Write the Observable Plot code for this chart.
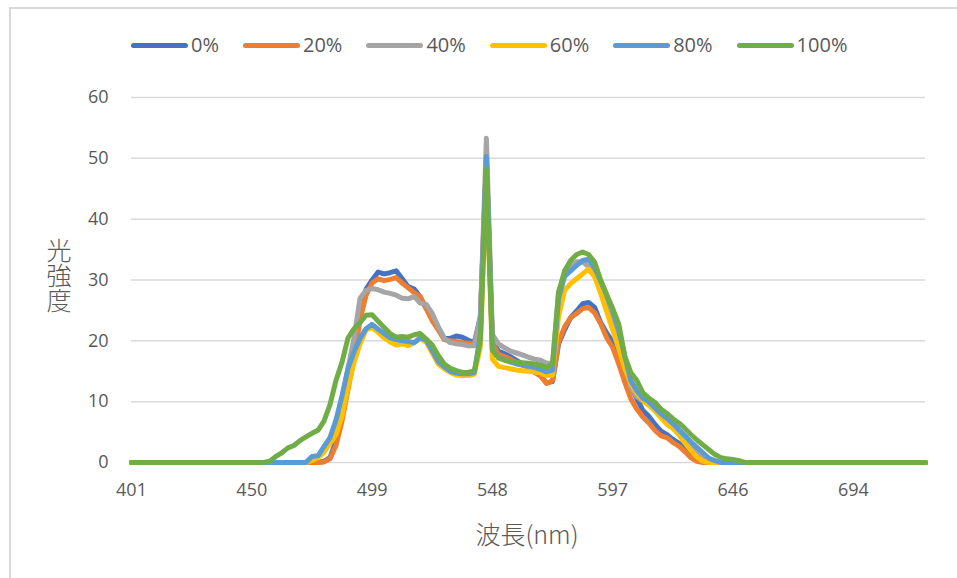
<!DOCTYPE html>
<html>
<head>
<meta charset="utf-8">
<script src="https://cdn.jsdelivr.net/npm/d3@7"></script>
<script src="https://cdn.jsdelivr.net/npm/@observablehq/plot@0.6"></script>
<style>
  html, body { margin: 0; padding: 0; background: #fff; }
  #wrap { position: relative; width: 957px; height: 578px; overflow: hidden; font-family: "Open Sans", "Noto Sans", sans-serif; color: #595959; }
  #border { position: absolute; left: 9px; top: 7px; width: 1000px; height: 1000px; border: 2px solid #d9d9d9; box-sizing: border-box; }
  #chart { position: absolute; left: 0; top: 0; }
  #legend { position: absolute; left: 131px; top: 31px; display: flex; gap: 24px; font-size: 20px; line-height: 28px; }
  .item { display: flex; align-items: center; }
  .sw { width: 57px; height: 5px; border-radius: 3px; margin-right: 3px; }
  #ytitle { position: absolute; left: 46px; top: 238px; writing-mode: vertical-rl; font-family: "Noto Sans CJK JP", sans-serif; font-size: 25px; line-height: 26px; color: #595959; font-weight: 300; }
  #xtitle { position: absolute; left: 0; width: 957px; text-align: center; top: 515px; padding-left: 97px; box-sizing: border-box; font-family: "Noto Sans CJK JP", sans-serif; font-size: 25px; color: #595959; font-weight: 300; }
</style>
</head>
<body>
<div id="wrap">
  <div id="border"></div>
  <div id="chart"></div>
  <div id="legend"></div>
  <div id="ytitle">光強度</div>
  <div id="xtitle">波長(nm)</div>
</div>
<script>
// Category axis: 133 wavelength samples (index 0..132), labels every 20 samples
const tickIndex = [0, 20, 40, 60, 80, 100, 120];
const tickLabels = ["401", "450", "499", "548", "597", "646", "694"];
const nPoints = 133;
const seriesNames = ["0%", "20%", "40%", "60%", "80%", "100%"];
const seriesColors = ["#4472C4", "#ED7D31", "#A5A5A5", "#FFC000", "#5B9BD5", "#70AD47"];
const yTicks = [0, 10, 20, 30, 40, 50, 60];

// Non-zero stretch of each series: start index and values (all other samples are 0)
const s0Start = 32;
const s0 = [0.2, 0.8, 3.5, 8, 13, 18.5, 25, 28.5, 30, 31.3, 31.0, 31.2, 31.5, 30.2, 28.9, 28.5, 27.2, 25.3, 23.6, 22.2,
  20.4, 20.4, 20.8, 20.6, 20.1, 19.7, 24, 50, 20, 18.3, 17.9, 17.4, 16.8, 16.2, 15.7, 15.0, 14.3, 13.1, 13.3, 19.5,
  21.8, 23.8, 24.9, 26.1, 26.3, 25.5, 23.0, 21.3, 19.8, 17.3, 14.8, 12.5, 10.5, 8.6, 7.6, 6.3, 5.2, 4.6, 3.8, 3.2,
  2.3, 1.3, 0.7, 0.2];
const s20Start = 32;
const s20 = [0.1, 0.6, 2.8, 6.8, 12, 17, 23.5, 27.5, 29.5, 30.2, 29.9, 30.1, 30.4, 29.5, 28.7, 27.9, 27.3, 25.3, 23.3, 21.8,
  20.2, 20.0, 19.9, 19.7, 19.6, 19.5, 23.5, 49.5, 19.5, 17.8, 17.4, 17.0, 16.4, 16.0, 15.6, 14.8, 14.2, 13.0, 13.5, 19.8,
  22.3, 23.8, 24.5, 25.3, 25.5, 24.6, 22.8, 20.5, 18.9, 16.2, 13.2, 10.5, 8.8, 7.5, 6.5, 5.3, 4.4, 4.1, 3.3, 2.7,
  1.8, 0.8, 0.2];
const s40Start = 30;
const s40 = [0.5, 1, 2, 3.5, 6.5, 10.5, 15.5, 20.5, 27, 28.3, 28.6, 28.4, 28.0, 27.8, 27.5, 27.0, 26.9, 27.3, 26.2, 26.0,
  24.5, 22.3, 20.4, 19.7, 19.5, 19.4, 19.2, 19.2, 24, 53.3, 21, 19.5, 18.9, 18.3, 18.0, 17.7, 17.3, 17.0, 16.8, 16.3,
  16.3, 28, 31, 32.2, 33.0, 33.0, 32.2, 30.9, 28.5, 26.0, 23.5, 20.6, 16.5, 12.5, 10.8, 10.1, 9.5, 8.9, 7.9, 6.9,
  6.1, 5.0, 4.1, 3.0, 2.0, 0.9, 0.3];
const s60Start = 30;
const s60 = [0.3, 0.8, 1.7, 3.1, 4.6, 7.6, 12.5, 16.5, 19.5, 21.8, 22.2, 21.4, 20.5, 19.8, 19.3, 19.5, 19.2, 19.7, 20.4, 19.8,
  18.0, 16.2, 15.4, 14.8, 14.4, 14.3, 14.3, 14.5, 19, 47, 17, 15.8, 15.6, 15.4, 15.2, 15.1, 15.0, 14.9, 14.7, 14.3,
  14.4, 24, 28.3, 29.4, 30.2, 31.0, 31.8, 30.5, 27.8, 24.8, 21.8, 18.7, 15.5, 13.0, 11.4, 10.3, 9.4, 8.5, 7.4, 6.3,
  5.6, 4.6, 3.2, 2.0, 0.9, 0.2];
const s80Start = 30;
const s80 = [1.0, 1.1, 2.6, 4.1, 7, 11, 15.5, 18.2, 20.4, 22.0, 22.7, 21.9, 21.2, 20.5, 20.2, 20.0, 19.9, 19.7, 20.5, 20.1,
  18.4, 16.6, 15.7, 15.0, 14.7, 14.6, 14.6, 14.8, 21, 50.3, 18.5, 17.3, 16.9, 16.5, 16.2, 16.0, 15.8, 15.6, 15.3, 14.9,
  15.2, 27, 30.6, 31.5, 32.4, 33.2, 33.4, 32.0, 29.8, 27.5, 25, 21.8, 17.5, 13.5, 11.8, 10.6, 10.0, 9.0, 8.0, 7.3,
  6.4, 5.4, 4.4, 3.4, 2.5, 1.6, 0.7, 0.3];
const s100Start = 23;
const s100 = [0.2, 1.0, 1.6, 2.4, 2.8, 3.6, 4.2, 4.8, 5.3, 6.8, 9.5, 13.5, 16.5, 20.5, 22, 23, 24.2, 24.3, 23.2, 22.2,
  21.2, 20.6, 20.7, 20.6, 21.0, 21.2, 20.3, 19.3, 17.6, 16.2, 15.5, 15.1, 14.8, 14.8, 15.1, 20, 48.3, 18.5, 17.2, 16.8,
  16.6, 16.5, 16.4, 16.3, 16.2, 16.0, 15.6, 16.2, 28, 31.5, 33.2, 34.2, 34.6, 34.2, 32.9, 30, 27.6, 25.3, 22.8, 17.5,
  14.8, 13.5, 11.5, 10.6, 9.9, 8.8, 8.1, 7.2, 6.5, 5.6, 4.6, 3.7, 2.9, 2.1, 1.3, 0.8, 0.6, 0.5, 0.3];

const starts = [s0Start, s20Start, s40Start, s60Start, s80Start, s100Start];
const values = [s0, s20, s40, s60, s80, s100];

// long table for Plot
const rows = [];
seriesNames.forEach((name, k) => {
  for (let i = 0; i < nPoints; i++) {
    const j = i - starts[k];
    const v = (j >= 0 && j < values[k].length) ? values[k][j] : 0;
    rows.push({ i, v, s: name });
  }
});

const chart = Plot.plot({
  width: 957,
  height: 578,
  marginLeft: 131,
  marginRight: 32,
  marginTop: 97,
  marginBottom: 116,
  style: { fontFamily: "'Open Sans', 'Noto Sans', sans-serif", fontSize: "18px", color: "#595959", background: "transparent" },
  x: { domain: [0, nPoints - 1], axis: null },
  y: { domain: [0, 60], axis: null },
  color: { domain: seriesNames, range: seriesColors },
  marks: [
    Plot.ruleY(yTicks, { stroke: "#d9d9d9", strokeWidth: 1.5 }),
    Plot.axisY(yTicks, { tickSize: 0, tickPadding: 23, label: null, fontSize: 18, fill: "#595959" }),
    Plot.axisX(tickIndex, { tickSize: 0, tickPadding: 21, label: null, fontSize: 18, fill: "#595959",
      tickFormat: (d) => tickLabels[tickIndex.indexOf(d)] }),
    Plot.line(rows, { x: "i", y: "v", z: "s", stroke: "s", strokeWidth: 5, strokeLinejoin: "round", strokeLinecap: "round" })
  ]
});
document.getElementById("chart").appendChild(chart);

const legend = document.getElementById("legend");
seriesNames.forEach((name, k) => {
  const it = document.createElement("div");
  it.className = "item";
  const sw = document.createElement("span");
  sw.className = "sw";
  sw.style.background = seriesColors[k];
  const t = document.createElement("span");
  t.textContent = name;
  it.appendChild(sw); it.appendChild(t);
  legend.appendChild(it);
});
</script>
</body>
</html>
